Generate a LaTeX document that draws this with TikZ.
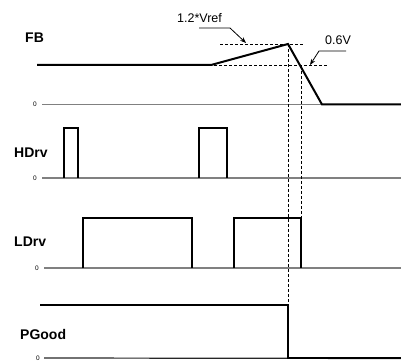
\documentclass[tikz,border=0pt]{standalone}
\usepackage{fontspec}
\setmainfont{Liberation Sans}
\usetikzlibrary{arrows.meta}
\begin{document}
\begin{tikzpicture}[x=1pt,y=-1pt,
  sig/.style={line width=2pt, line join=miter},
  base/.style={line width=1.4pt, draw=black!50},
  guide/.style={line width=0.8pt, dash pattern=on 3pt off 2pt},
  lbl/.style={font=\fontsize{14}{14}\selectfont\bfseries, anchor=west, inner sep=0},
  zero/.style={font=\fontsize{6.5}{6.5}\selectfont, anchor=east, inner sep=0},
  note/.style={font=\fontsize{12.5}{12.5}\selectfont, anchor=west, inner sep=0},
  lead/.style={line width=0.8pt, -{Stealth[length=6pt,width=4.5pt]}}]
\useasboundingbox (0,0) rectangle (401,363);

% labels
\node[lbl] (fb) at (25,38) {FB};
\node[lbl] (hdrv) at (14,153) {HDrv};
\node[lbl] (ldrv) at (14,242) {LDrv};
\node[lbl] (pgood) at (20,334) {PGood};

\node[zero] (z1) at (37,104.5) {0};
\node[zero] (z2) at (37,178) {0};
\node[zero] (z3) at (39,268) {0};
\node[zero] (z4) at (40,358) {0};

% baselines
\draw[base] (z1.east) ++(5,0) -- (401,104.5);
\draw[base] (z2.east) ++(5,0) -- (401,178);
\draw[base] (z3.east) ++(5,0) -- (401,268);
\draw[line width=1.2pt, draw=black!85] (z4.east) ++(4,0) -- (401,358.5);

% guide lines
\coordinate (peak) at (288,44);
\coordinate (cross) at (301,66);
\draw[guide] (220,44) -- (303,44);
\draw[guide] (64,65.6) -- (327,65.6);
\draw[guide] (peak) -- (288,305);
\draw[guide] (cross) -- (301,218);

% signals
\draw[sig] (37,65) -- (211,65) -- (peak) -- (322,104.5) -- (401,104.5);
\draw[sig] (64,178) -- (64,128) -- (78,128) -- (78,178);
\draw[sig] (199,178) -- (199,128) -- (227,128) -- (227,178);
\draw[sig] (83,268) -- (83,218) -- (192,218) -- (192,268);
\draw[sig] (234,268) -- (234,218) -- (301,218) -- (301,268);
\draw[sig] (40,305) -| (288,358) -- (401,358);

% annotations
\node[note] (vref) at (177,18) {1.2*Vref};
\coordinate (vrefa) at (199,28);
\coordinate (vrefb) at (230,28);
\draw[lead] (vrefa) -- (vrefb) -- (246,43);
\node[note] (v06) at (325,40) {0.6V};
\coordinate (v06a) at (346,51);
\coordinate (v06b) at (319,51);
\draw[lead] (v06a) -- (v06b) -- (310,65);
\end{tikzpicture}
\end{document}
